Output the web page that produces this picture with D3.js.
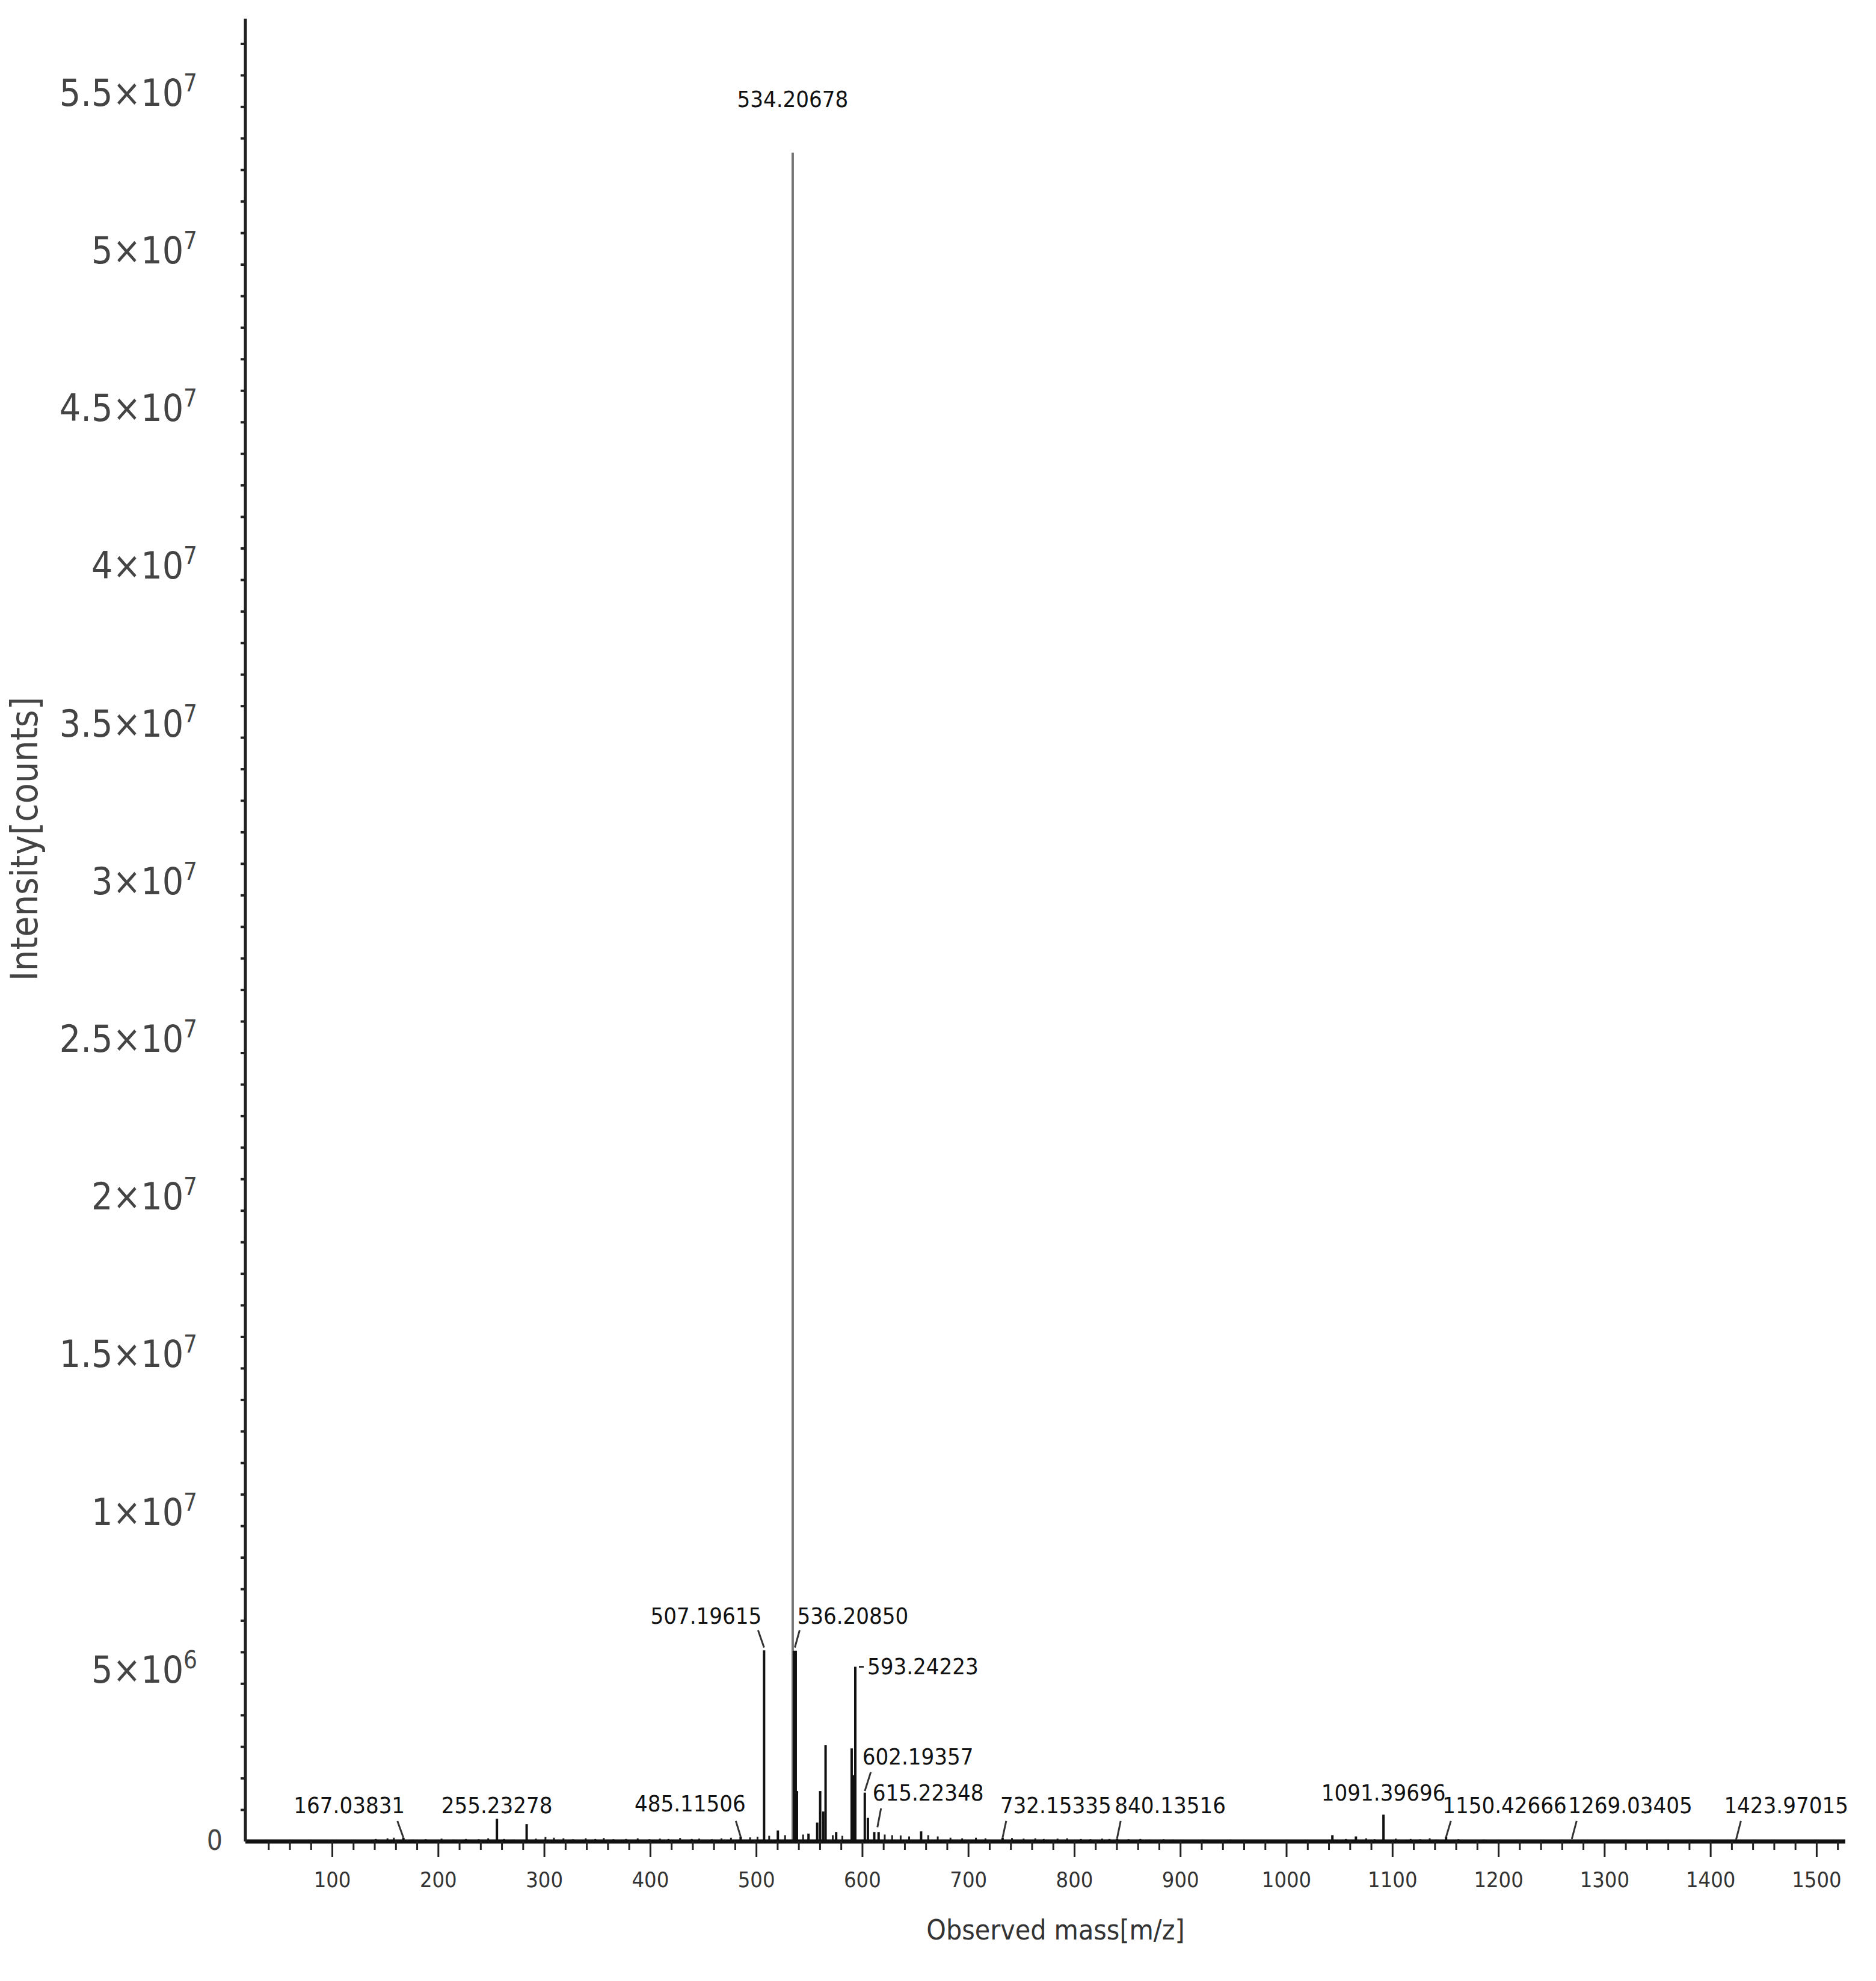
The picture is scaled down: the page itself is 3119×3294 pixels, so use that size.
<!DOCTYPE html>
<html>
<head>
<meta charset="utf-8">
<script src="https://cdn.jsdelivr.net/npm/d3@7"></script>
<style>
  body { margin: 0; background: #fff; }
  svg text { font-family: "DejaVu Sans Condensed", "Liberation Sans Narrow", "Open Sans", sans-serif; }
</style>
</head>
<body>
<svg id="chart" width="3119" height="3294"></svg>
<script>
// main peaks [m/z, intensity]
const peakMass = [534.207, 536.209, 507.196, 593.242, 565.2, 589.8, 591.6, 560.1, 538.2, 557.3, 602.194, 605.1, 563.0, 255.233, 283.26, 1091.397, 167.038, 485.115, 615.223, 732.153, 840.135, 1150.427, 1269.034, 1423.970, 520.2, 655.3, 1043.2, 1065.4, 549.1, 575.2, 611.1];
const peakInt  = [5.355e7, 6.05e6, 6.06e6, 5.54e6, 3.05e6, 2.95e6, 2.1e6, 1.6e6, 1.6e6, 0.6e6, 1.55e6, 0.75e6, 0.95e6, 0.72e6, 0.55e6, 0.85e6, 0.12e6, 0.15e6, 0.3e6, 0.12e6, 0.09e6, 0.14e6, 0.06e6, 0.05e6, 0.35e6, 0.32e6, 0.2e6, 0.16e6, 0.25e6, 0.3e6, 0.3e6];

// baseline noise
const noiseMass = [141, 152, 158, 176, 188, 203, 214, 226, 238, 247, 262, 271, 292, 301, 309, 318, 327, 339, 348, 356, 365, 377, 388, 399, 409, 417, 428, 439, 446, 458, 467, 476, 494, 501, 512, 527, 544, 572, 581, 621, 628, 636, 644, 662, 671, 683, 694, 707, 716, 741, 752, 763, 771, 784, 793, 806, 815, 826, 833, 851, 862, 871, 884, 893, 908, 921, 933, 947, 958, 1056, 1075, 1083, 1103, 1117, 1126, 1135, 1141, 1162, 1171, 1186, 1199];
const noiseInt  = [0.08e6, 0.1e6, 0.12e6, 0.06e6, 0.07e6, 0.09e6, 0.06e6, 0.08e6, 0.07e6, 0.1e6, 0.08e6, 0.06e6, 0.09e6, 0.14e6, 0.12e6, 0.1e6, 0.07e6, 0.1e6, 0.08e6, 0.11e6, 0.07e6, 0.08e6, 0.1e6, 0.07e6, 0.09e6, 0.08e6, 0.11e6, 0.08e6, 0.09e6, 0.07e6, 0.1e6, 0.12e6, 0.13e6, 0.15e6, 0.18e6, 0.2e6, 0.22e6, 0.2e6, 0.18e6, 0.22e6, 0.2e6, 0.19e6, 0.16e6, 0.2e6, 0.16e6, 0.12e6, 0.1e6, 0.12e6, 0.1e6, 0.11e6, 0.09e6, 0.1e6, 0.08e6, 0.09e6, 0.1e6, 0.08e6, 0.07e6, 0.09e6, 0.08e6, 0.07e6, 0.08e6, 0.06e6, 0.07e6, 0.06e6, 0.05e6, 0.06e6, 0.05e6, 0.06e6, 0.05e6, 0.08e6, 0.1e6, 0.07e6, 0.09e6, 0.08e6, 0.07e6, 0.1e6, 0.06e6, 0.07e6, 0.05e6, 0.06e6, 0.05e6];

// annotated labels
const labelMass = [534.207, 507.196, 536.209, 593.242, 602.194, 615.223, 167.038, 255.233, 485.115, 732.153, 840.135, 1091.397, 1150.427, 1269.034, 1423.970];
const labelText = ["534.20678", "507.19615", "536.20850", "593.24223", "602.19357", "615.22348", "167.03831", "255.23278", "485.11506", "732.15335", "840.13516", "1091.39696", "1150.42666", "1269.03405", "1423.97015"];

const xTicks = [100, 200, 300, 400, 500, 600, 700, 800, 900, 1000, 1100, 1200, 1300, 1400, 1500];
const yTickMant = ["5", "1", "1.5", "2", "2.5", "3", "3.5", "4", "4.5", "5", "5.5"];
const yTickExp  = ["6", "7", "7", "7", "7", "7", "7", "7", "7", "7", "7"];
const yTicks = [5e6, 1e7, 1.5e7, 2e7, 2.5e7, 3e7, 3.5e7, 4e7, 4.5e7, 5e7, 5.5e7];

// label layout: [dx from peak x, baseline y in data units, anchor, leader]
const labelLayout = [
  [0, 5.5e7, "middle", null],
  [-4, 6.9e6, "end", [-10, 6.7e6, 0, 6.15e6]],
  [4, 6.9e6, "start", [8, 6.7e6, 0, 6.15e6]],
  [20, 5.3e6, "start", [6, 5.54e6, 14, 5.54e6]],
  [-4, 2.45e6, "start", [10, 2.2e6, 0, 1.6e6]],
  [-10, 1.3e6, "start", [4, 1.05e6, -2, 0.45e6]],
  [-90, 0.9e6, "middle", [-10, 0.65e6, 0, 0.12e6]],
  [0, 0.9e6, "middle", null],
  [-84, 0.95e6, "middle", [-8, 0.65e6, 0, 0.15e6]],
  [-4, 0.9e6, "start", [6, 0.65e6, 0, 0.12e6]],
  [-4, 0.9e6, "start", [6, 0.65e6, 0, 0.1e6]],
  [0, 1.3e6, "middle", null],
  [-6, 0.9e6, "start", [8, 0.65e6, 0, 0.14e6]],
  [-6, 0.9e6, "start", [8, 0.65e6, 0, 0.08e6]],
  [-20, 0.9e6, "start", [8, 0.65e6, 0, 0.06e6]]
];

const svg = d3.select('#chart');
const x = d3.scaleLinear().domain([18, 1527]).range([408, 3068]);
const y = d3.scaleLinear().domain([0, 5.78e7]).range([3062, 31]);

// noise sticks
svg.append('g').selectAll('line').data(noiseMass).enter().append('line')
  .attr('x1', d => x(d)).attr('x2', d => x(d))
  .attr('y1', y(0)).attr('y2', (d, i) => y(noiseInt[i]))
  .attr('stroke', '#222').attr('stroke-width', 3);

// peaks
svg.append('g').selectAll('line').data(peakMass).enter().append('line')
  .attr('x1', d => x(d)).attr('x2', d => x(d))
  .attr('y1', y(0)).attr('y2', (d, i) => y(peakInt[i]))
  .attr('stroke', (d, i) => i === 0 ? '#777' : '#111')
  .attr('stroke-width', (d, i) => i === 0 ? 4 : (i === 1 ? 7 : 4));

// x axis
const xAxis = svg.append('g').attr('transform', `translate(0,${y(0)})`);
xAxis.append('line').attr('x1', 408).attr('x2', 3068).attr('stroke', '#111').attr('stroke-width', 7);
xAxis.selectAll('line.minor').data(d3.range(40, 1521, 20)).enter().append('line')
  .attr('class', 'minor')
  .attr('x1', d => x(d)).attr('x2', d => x(d))
  .attr('y1', 0).attr('y2', d => d % 100 === 0 ? 26 : 14)
  .attr('stroke', '#222').attr('stroke-width', 3);
xAxis.selectAll('text').data(xTicks).enter().append('text')
  .attr('x', d => x(d)).attr('y', 76)
  .attr('text-anchor', 'middle').attr('font-size', 36).attr('fill', '#333')
  .text(d => d);

// y axis
const yAxis = svg.append('g').attr('transform', 'translate(408,0)');
yAxis.append('line').attr('y1', 31).attr('y2', y(0)).attr('stroke', '#222').attr('stroke-width', 5);
yAxis.selectAll('line.minor').data(d3.range(1e6, 5.78e7, 1e6)).enter().append('line')
  .attr('x1', -8).attr('x2', 0)
  .attr('y1', d => y(d)).attr('y2', d => y(d))
  .attr('stroke', '#222').attr('stroke-width', 4);
const yl = yAxis.selectAll('text.tl').data(yTicks).enter().append('text')
  .attr('class', 'tl')
  .attr('x', -80).attr('y', d => y(d) - 2)
  .attr('text-anchor', 'end').attr('font-size', 62).attr('fill', '#444');
yl.append('tspan').text((d, i) => yTickMant[i] + '×10');
yl.append('tspan').attr('dy', -24).attr('font-size', 40).text((d, i) => yTickExp[i]);
yAxis.append('text').attr('x', -38).attr('y', y(0) + 14)
  .attr('text-anchor', 'end').attr('font-size', 46).attr('fill', '#444').text('0');

// axis titles
svg.append('text').attr('x', 1755).attr('y', 3225).attr('text-anchor', 'middle')
  .attr('font-size', 46).attr('fill', '#333').text('Observed mass[m/z]');
svg.append('text').attr('transform', 'translate(62,1395) rotate(-90)').attr('text-anchor', 'middle')
  .attr('font-size', 62).attr('fill', '#444').text('Intensity[counts]');

// peak labels
const lab = svg.append('g');
labelMass.forEach((m, i) => {
  const [dx, ly, anchor, leader] = labelLayout[i];
  lab.append('text').attr('x', x(m) + dx).attr('y', y(ly))
    .attr('text-anchor', anchor).attr('font-size', 38).attr('fill', '#111')
    .text(labelText[i]);
  if (leader) {
    lab.append('line')
      .attr('x1', x(m) + leader[0]).attr('y1', y(leader[1]))
      .attr('x2', x(m) + leader[2]).attr('y2', y(leader[3]))
      .attr('stroke', '#333').attr('stroke-width', 3);
  }
});
</script>
</body>
</html>
